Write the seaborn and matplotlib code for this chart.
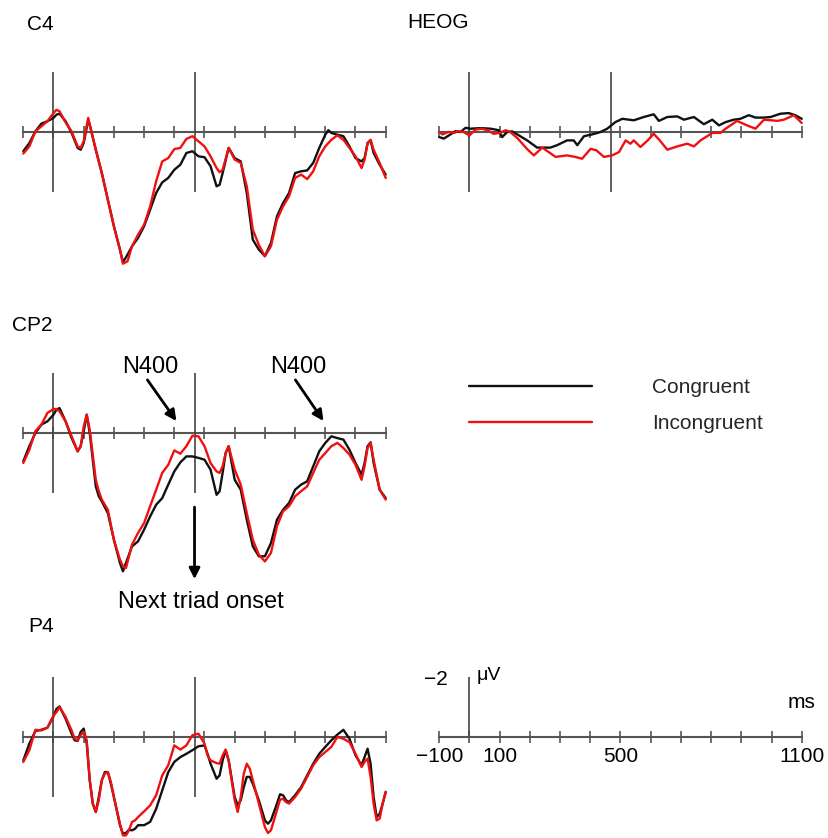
import matplotlib
matplotlib.use("Agg")
import matplotlib.pyplot as plt
from matplotlib.lines import Line2D
import pandas as pd
import seaborn as sns

W, H = 829, 838
CONDITIONS = ["Congruent", "Incongruent"]
COLORS = {"Congruent": "#111111", "Incongruent": "#f01010"}
ONSET_MS = 467
TICKS_MS = list(range(-100, 1101, 100))
SCALE_LABELS = {-100: "\u2212100", 100: "100", 500: "500", 1100: "1100"}

# ---------------- data (µV, negative plotted up) ----------------
c4_time = [-100, -80, -60, -40, -20, 0, 10, 20, 40, 60, 80, 90, 100, 115, 120, 140, 160, 180, 200, 220,
           230, 245, 260, 280, 300, 320, 340, 360, 380, 400, 420, 440, 460, 480, 500, 520, 540, 550, 560,
           580, 600, 620, 640, 660, 680, 700, 720, 740, 760, 780, 800, 820, 840, 860, 880, 900, 910, 920,
           940, 960, 980, 1000, 1020, 1030, 1040, 1050, 1060, 1080, 1100]
c4_congruent = [0.64, 0.37, -0.02, -0.28, -0.36, -0.47, -0.58, -0.61,
                -0.36, 0.03, 0.53, 0.59, 0.37, -0.41, -0.24,
                0.59, 1.37, 2.26, 3.14, 3.92, 4.34, 4.09,
                3.81, 3.53, 3.14, 2.59, 2.03, 1.68, 1.53, 1.26, 1.09, 0.70, 0.64, 0.81, 0.84, 1.14, 1.81,
                1.76, 1.37,
                0.53, 0.87, 0.98, 2.03, 3.59, 3.92, 4.14, 3.70, 2.81, 2.37, 2.03, 1.37, 1.31, 1.28, 1.03, 0.53, 0.09,
                -0.06, 0.03,
                0.09, 0.14, 0.48, 0.87, 0.98,
                0.87, 0.37, 0.28, 0.70,
                1.09, 1.42]
c4_incongruent = [0.72, 0.48, -0.02, -0.19, -0.36, -0.63, -0.74, -0.69,
                  -0.32, -0.02, 0.48, 0.53, 0.31, -0.47, -0.24,
                  0.59, 1.37, 2.26, 3.14, 3.92, 4.39, 4.31,
                  3.81, 3.42, 3.09, 2.48, 1.64, 0.98, 0.87, 0.57, 0.53, 0.23, 0.14, 0.31, 0.48, 0.81, 1.20,
                  1.34, 1.26,
                  0.53, 0.92, 1.03, 1.81, 3.26, 3.76, 4.14, 3.81, 2.92, 2.48, 2.14, 1.53, 1.42, 1.57, 1.31, 0.81, 0.48,
                  0.37, 0.26,
                  0.11, 0.26, 0.53, 0.81, 1.20,
                  0.92, 0.37, 0.26, 0.59,
                  1.03, 1.53]

cp2_time = [-100, -80, -60, -40, -20, 0, 10, 20, 40, 60, 80, 90, 100, 110, 120, 140, 150, 160, 180, 200,
            220, 230, 240, 260, 280, 300, 320, 340, 360, 380, 400, 420, 440, 460, 480, 500, 520, 540, 550,
            560, 570, 580, 600, 620, 640, 660, 680, 700, 720, 740, 760, 780, 800, 820, 840, 860, 880, 900,
            920, 940, 960, 980, 1000, 1020, 1030, 1040, 1050, 1060, 1080, 1100]
cp2_congruent = [0.94, 0.44, 0.00, -0.28, -0.39, -0.61, -0.78, -0.83,
                 -0.39, 0.17, 0.61, 0.44, -0.06, -0.61, 0.00,
                 1.78, 2.11, 2.28, 2.67, 3.56, 4.33, 4.61, 4.33,
                 3.78, 3.61, 3.22, 2.78, 2.39, 2.17, 1.72, 1.28, 0.98, 0.78, 0.78, 0.83, 0.89,
                 1.22, 2.06, 1.94, 1.33, 0.67, 0.44,
                 1.56, 1.89, 2.89, 3.78, 4.11, 4.11, 3.67, 2.89, 2.56, 2.33, 1.89, 1.72, 1.61, 1.11, 0.61,
                 0.33, 0.11, 0.17, 0.22, 0.56, 1.00, 1.39,
                 1.00, 0.44, 0.31, 1.00,
                 1.89, 2.17]
cp2_incongruent = [1.00, 0.56, -0.06, -0.28, -0.67, -0.80, -0.80, -0.72,
                   -0.39, 0.11, 0.61, 0.44, -0.22, -0.61, -0.11,
                   1.56, 1.94, 2.22, 2.56, 3.56, 4.22, 4.44, 4.50,
                   3.72, 3.33, 3.00, 2.44, 1.89, 1.33, 1.06, 0.58, 0.69, 0.44, 0.09, 0.11, 0.44,
                   1.00, 1.28, 1.33, 1.11, 0.67, 0.44,
                   1.22, 1.72, 2.67, 3.56, 4.06, 4.28, 4.00, 3.11, 2.61, 2.44, 2.11, 1.94, 1.78, 1.33, 0.89,
                   0.67, 0.44, 0.33, 0.50, 0.72, 1.06, 1.56,
                   1.11, 0.50, 0.33, 0.89,
                   1.89, 2.22]

p4_time = [-100, -80, -60, -40, -20, 0, 10, 20, 40, 60, 70, 80, 90, 100, 110, 120, 130, 140, 150, 160,
           170, 180, 190, 200, 220, 230, 240, 250, 260, 270, 280, 300, 320, 340, 360, 380, 400, 420, 440,
           460, 480, 500, 510, 520, 540, 550, 560, 570, 580, 600, 610, 620, 630, 640, 650, 660, 680, 700,
           710, 720, 740, 750, 760, 770, 780, 800, 820, 840, 860, 880, 900, 920, 940, 960, 980, 1000, 1020,
           1030, 1040, 1050, 1060, 1070, 1080, 1090, 1100]
p4_congruent = [0.78, 0.22, -0.20, -0.24, -0.31, -0.69, -0.94, -1.02,
                -0.61, -0.11, 0.11, 0.13, -0.17, -0.28, 0.22, 1.44, 2.22, 2.50, 2.00, 1.44, 1.17, 1.17, 1.56, 2.00,
                2.94, 3.22, 3.20, 3.09, 3.11, 3.06, 2.94,
                2.94, 2.83, 2.39, 1.78, 1.17, 0.83, 0.67, 0.56, 0.44, 0.31, 0.28,
                0.56, 0.89,
                1.39, 1.28, 0.78, 0.44, 0.78,
                2.00, 2.28, 2.11, 1.67, 1.33, 1.33, 1.56,
                2.11, 2.78, 2.89, 2.78,
                2.22, 1.91, 1.94, 2.11, 2.17,
                1.94, 1.67, 1.28, 0.89, 0.56, 0.33, 0.11, -0.08, -0.24, 0.06, 0.61, 0.94,
                0.67, 0.39, 0.89, 2.00, 2.67, 2.56, 2.22, 1.83]
p4_incongruent = [0.83, 0.44, -0.24, -0.22, -0.31, -0.72, -0.83, -1.00,
                  -0.67, -0.22, 0.06, 0.11, -0.06, -0.17, 0.11, 1.44, 2.22, 2.50, 2.11, 1.44, 1.22, 1.17, 1.50, 2.00,
                  2.89, 3.28, 3.28, 3.11, 2.83, 2.78, 2.67,
                  2.48, 2.28, 1.94, 1.28, 0.94, 0.28, 0.42, 0.28, -0.06, -0.11, 0.22,
                  0.61, 0.78,
                  0.87, 0.89, 0.61, 0.42, 0.78,
                  2.11, 2.50, 2.00, 1.22, 0.89, 1.06, 1.44,
                  2.22, 3.00, 3.20, 3.11,
                  2.44, 2.09, 2.06, 2.17, 2.22,
                  2.00, 1.72, 1.33, 0.94, 0.67, 0.50, 0.33, 0.00, 0.06, 0.17, 0.56, 1.00,
                  0.83, 0.72, 1.33, 2.22, 2.78, 2.72, 2.22, 1.83]

heog_time_congruent = [-100, -85, -63, -46, -30, -13, 3, 36, 70, 97, 108, 125, 141, 163, 191, 224, 246, 268,
                       290, 323, 345, 357, 379, 406, 434, 456, 483, 506, 544, 577, 610, 627, 655, 688, 710,
                       743, 776, 804, 826, 848, 875, 897, 925, 947, 975, 997, 1030, 1057, 1079, 1100]
heog_congruent = [0.17, 0.22, 0.08, -0.03, 0.00, -0.14, -0.11, -0.13, -0.11, -0.06,
                  0.17, 0.00, -0.02, 0.11, 0.28, 0.52, 0.52, 0.52, 0.44, 0.28,
                  0.28, 0.44, 0.14, 0.08, 0.00, -0.11, -0.33, -0.44, -0.39, -0.50,
                  -0.59, -0.37, -0.50, -0.52, -0.41, -0.50, -0.26, -0.41, -0.22, -0.33,
                  -0.41, -0.44, -0.56, -0.48, -0.48, -0.50, -0.61, -0.63, -0.56, -0.44]
heog_time_incongruent = [-100, -90, -70, -50, -40, -20, 0, 20, 40, 60, 80, 100, 120, 135, 160, 190, 213, 241,
                         285, 323, 350, 373, 401, 420, 445, 472, 495, 517, 533, 544, 566, 590, 610, 630, 655,
                         688, 721, 743, 765, 804, 831, 848, 886, 919, 947, 975, 1000, 1019, 1041, 1074, 1100]
heog_incongruent = [0.00, 0.08, 0.00, 0.03, -0.03, 0.00, 0.11, -0.08, -0.11, -0.06,
                    0.06, 0.03, -0.06, 0.00, 0.22, 0.56, 0.78, 0.52, 0.83, 0.78,
                    0.83, 0.89, 0.56, 0.61, 0.83, 0.78, 0.67, 0.28, 0.39, 0.28,
                    0.50, 0.28, 0.06, 0.28, 0.59, 0.48, 0.39, 0.48, 0.28, 0.03,
                    0.03, -0.11, -0.37, -0.22, -0.11, -0.41, -0.39, -0.37, -0.41, -0.56,
                    -0.30]


def frame(times_a, vals_a, times_b, vals_b):
    a = pd.DataFrame({"time": times_a, "uV": vals_a, "condition": CONDITIONS[0]})
    b = pd.DataFrame({"time": times_b, "uV": vals_b, "condition": CONDITIONS[1]})
    return pd.concat([a, b], ignore_index=True)


# ---------------- figure ----------------
sns.set_style("white")
plt.rcParams["font.family"] = ["Liberation Sans", "DejaVu Sans"]
fig = plt.figure(figsize=(W / 100, H / 100), dpi=100)

PX_PER_UV = 30.0
LEFT_X = (23.3, 385.7)
RIGHT_X = (439.3, 801.7)


def make_axes(xr, axis_y, vmin, vmax):
    top = axis_y + vmin * PX_PER_UV
    bottom = axis_y + vmax * PX_PER_UV
    ax = fig.add_axes([xr[0] / W, 1 - bottom / H, (xr[1] - xr[0]) / W, (bottom - top) / H])
    return ax


def style(ax, vmin, vmax, labels=None):
    ax.set_xlim(-100, 1100)
    ax.set_ylim(vmax, vmin)
    for s in ["top", "right", "left"]:
        ax.spines[s].set_visible(False)
    sp = ax.spines["bottom"]
    sp.set_position(("data", 0))
    sp.set_color("#555555")
    sp.set_linewidth(1.5)
    sp.set_zorder(0.5)
    ax.set_xticks(TICKS_MS)
    ax.tick_params(axis="x", direction="inout", length=8, width=1.2, colors="#555555",
                   labelcolor="black", labelsize=15, pad=3.5, bottom=True)
    if labels is None:
        ax.tick_params(axis="x", labelbottom=False)
    else:
        ax.set_xticklabels([labels.get(t, "") for t in TICKS_MS])
    ax.set_yticks([])
    ax.set_xlabel("")
    ax.set_ylabel("")
    ax.patch.set_visible(False)


def erp_panel(xr, axis_y, df, vmin, vmax):
    ax = make_axes(xr, axis_y, vmin, vmax)
    ax.vlines([0, ONSET_MS], -2, 2, colors="#444444", lw=1.2, zorder=0.6)
    sns.lineplot(data=df, x="time", y="uV", hue="condition", hue_order=CONDITIONS,
                 palette=COLORS, estimator=None, sort=True, lw=1.7, legend=False, ax=ax)
    for ln in ax.lines:
        ln.set_clip_on(False)
        ln.set_solid_joinstyle("round")
        ln.set_solid_capstyle("round")
    style(ax, vmin, vmax)
    return ax


ax_c4 = erp_panel(LEFT_X, 132, frame(c4_time, c4_congruent, c4_time, c4_incongruent), -2.3, 4.8)
ax_heog = erp_panel(RIGHT_X, 132, frame(heog_time_congruent, heog_congruent,
                                        heog_time_incongruent, heog_incongruent), -2.3, 2.3)
ax_cp2 = erp_panel(LEFT_X, 433, frame(cp2_time, cp2_congruent, cp2_time, cp2_incongruent), -2.3, 4.8)
ax_p4 = erp_panel(LEFT_X, 737, frame(p4_time, p4_congruent, p4_time, p4_incongruent), -2.3, 3.4)

# scale panel
ax_sc = make_axes(RIGHT_X, 737, -2.3, 1.0)
ax_sc.vlines([0], -2, 0, colors="#444444", lw=1.2)
style(ax_sc, -2.3, 1.0, labels=SCALE_LABELS)


def ftext(x, y, s, size=15, ha="left"):
    fig.text(x / W, 1 - y / H, s, fontsize=size, ha=ha, va="baseline", color="black")


ftext(27, 30, "C4")
ftext(407, 28, "HEOG")
ftext(12, 331, "CP2")
ftext(28, 632, "P4")
ftext(448, 685, "\u22122", size=15, ha="right")
ftext(477, 680, "\u03bcV", size=14)
ftext(815, 708, "ms", size=15, ha="right")

# annotations on CP2
arrow = dict(arrowstyle="-|>", lw=2.0, color="black", mutation_scale=16, shrinkA=0, shrinkB=0)
ax_cp2.annotate("", xy=(407, -0.40), xytext=(311, -1.77), arrowprops=arrow, annotation_clip=False)
ax_cp2.annotate("", xy=(894, -0.40), xytext=(801, -1.77), arrowprops=arrow, annotation_clip=False)
ax_cp2.annotate("", xy=(ONSET_MS, 4.87), xytext=(ONSET_MS, 2.47), arrowprops=arrow, annotation_clip=False)
ftext(150, 373, "N400", size=17, ha="center")
ftext(298, 373, "N400", size=17, ha="center")
ftext(201, 608, "Next triad onset", size=17, ha="center")

# legend
handles = [Line2D([], [], color=COLORS[c], lw=1.7) for c in CONDITIONS]
fig.legend(handles, CONDITIONS, loc="center left", bbox_to_anchor=(469 / W, 1 - 405.5 / H),
           frameon=False, fontsize=15, handlelength=5.9, handletextpad=2.9, labelspacing=0.8,
           borderpad=0, borderaxespad=0)

fig.savefig("out.png", dpi=100)
